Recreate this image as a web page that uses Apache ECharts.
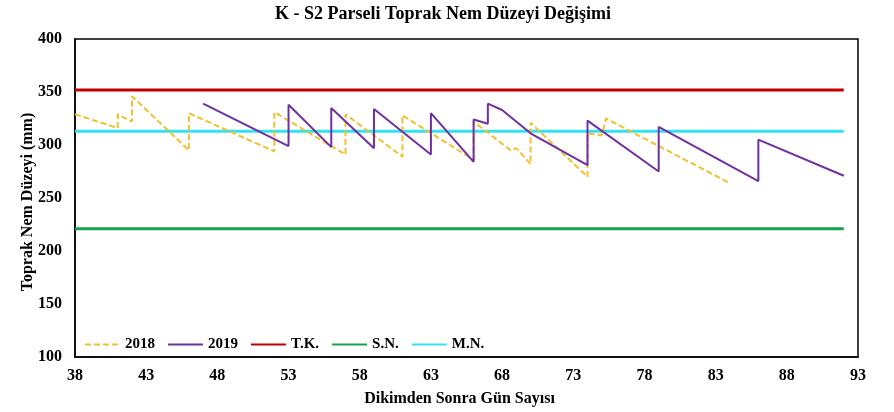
<!DOCTYPE html>
<html>
<head>
<meta charset="utf-8">
<script src="https://cdn.jsdelivr.net/npm/echarts@6/dist/echarts.min.js"></script>
<style>
  html, body { margin: 0; padding: 0; background: #fff; }
  #chart { width: 894px; height: 412px; }
</style>
</head>
<body>
<div id="chart"></div>
<script>
// Daily soil-moisture readings (mm) against days after planting
const days2018 = [38, 41, 41, 42, 42, 46, 46, 52, 52, 57, 57, 61, 61, 66, 66, 68.6, 69, 70, 70, 74, 74, 75, 75.3, 84];
const values2018 = [329, 316, 329, 322, 346, 295, 330, 294, 331, 291, 329, 289, 328, 286, 322, 295, 297, 282, 321, 270, 311, 309, 325, 264];

const days2019 = [47, 53, 53, 56, 56, 59, 59, 63, 63, 66, 66, 67, 67, 68, 70, 74, 74, 79, 79, 86, 86, 92];
const values2019 = [339, 299, 338, 298, 335, 297, 334, 291, 330, 284, 324, 320, 339, 333, 311, 281, 323, 275, 317, 266, 305, 271];

// Threshold levels: field capacity, wilting point, management level
const tkLevel = 352;
const snLevel = 221;
const mnLevel = 313;
const levelSpan = [38, 92];

const xTicks = { min: 38, max: 93, step: 5 };
const yTicks = { min: 100, max: 400, step: 50 };

const pairs = (xs, ys) => xs.map((x, i) => [x, ys[i]]);
const flat = (v) => levelSpan.map((d) => [d, v]);

const serif = '"Liberation Serif", "DejaVu Serif", serif';
const textStyleBold = { fontFamily: serif, fontWeight: 'bold', color: '#000' };

const chart = echarts.init(document.getElementById('chart'));

function lineSeries(name, data, color, width, type) {
  return {
    name: name,
    type: 'line',
    data: data,
    symbol: 'none',
    showSymbol: false,
    animation: false,
    lineStyle: { color: color, width: width, type: type || 'solid' },
    itemStyle: { color: color }
  };
}

chart.setOption({
  backgroundColor: '#fff',
  animation: false,
  title: {
    text: 'K - S2 Parseli Toprak Nem Düzeyi Değişimi',
    left: 438,
    top: 0,
    textAlign: 'center',
    textStyle: Object.assign({}, textStyleBold, { fontSize: 18 })
  },
  grid: {
    left: 75,
    right: 36,
    top: 39,
    bottom: 55,
    show: true,
    borderColor: '#000',
    borderWidth: 1.5,
    backgroundColor: 'transparent'
  },
  legend: {
    left: 79,
    top: 332,
    itemWidth: 35,
    itemHeight: 14,
    itemGap: 12,
    itemStyle: { opacity: 0 },
    textStyle: Object.assign({}, textStyleBold, { fontSize: 15 }),
    data: ['2018', '2019', 'T.K.', 'S.N.', 'M.N.']
  },
  xAxis: {
    type: 'value',
    min: xTicks.min,
    max: xTicks.max,
    interval: xTicks.step,
    name: 'Dikimden Sonra Gün Sayısı',
    nameLocation: 'middle',
    nameGap: 34,
    nameTextStyle: Object.assign({}, textStyleBold, { fontSize: 16, padding: [0, 14, 0, 0] }),
    axisLine: { show: true, lineStyle: { color: '#000', width: 1.5 } },
    axisTick: { show: false },
    splitLine: { show: false },
    axisLabel: Object.assign({}, textStyleBold, { fontSize: 16, margin: 11 })
  },
  yAxis: {
    type: 'value',
    min: yTicks.min,
    max: yTicks.max,
    interval: yTicks.step,
    name: 'Toprak Nem Düzeyi (mm)',
    nameLocation: 'middle',
    nameGap: 39,
    nameRotate: 90,
    nameMoveOverlap: false,
    nameTextStyle: Object.assign({}, textStyleBold, { fontSize: 16, padding: [0, 8, 0, 0] }),
    axisLine: { show: true, lineStyle: { color: '#000', width: 1.5 } },
    axisTick: { show: false },
    splitLine: { show: false },
    axisLabel: Object.assign({}, textStyleBold, { fontSize: 16, margin: 13 })
  },
  series: [
    lineSeries('T.K.', flat(tkLevel), '#c00000', 3),
    lineSeries('S.N.', flat(snLevel), '#12a54a', 3),
    lineSeries('M.N.', flat(mnLevel), '#33e2ee', 3),
    lineSeries('2018', pairs(days2018, values2018), '#f2c02e', 2, [6, 3]),
    lineSeries('2019', pairs(days2019, values2019), '#7030a0', 2)
  ]
});
</script>
</body>
</html>
